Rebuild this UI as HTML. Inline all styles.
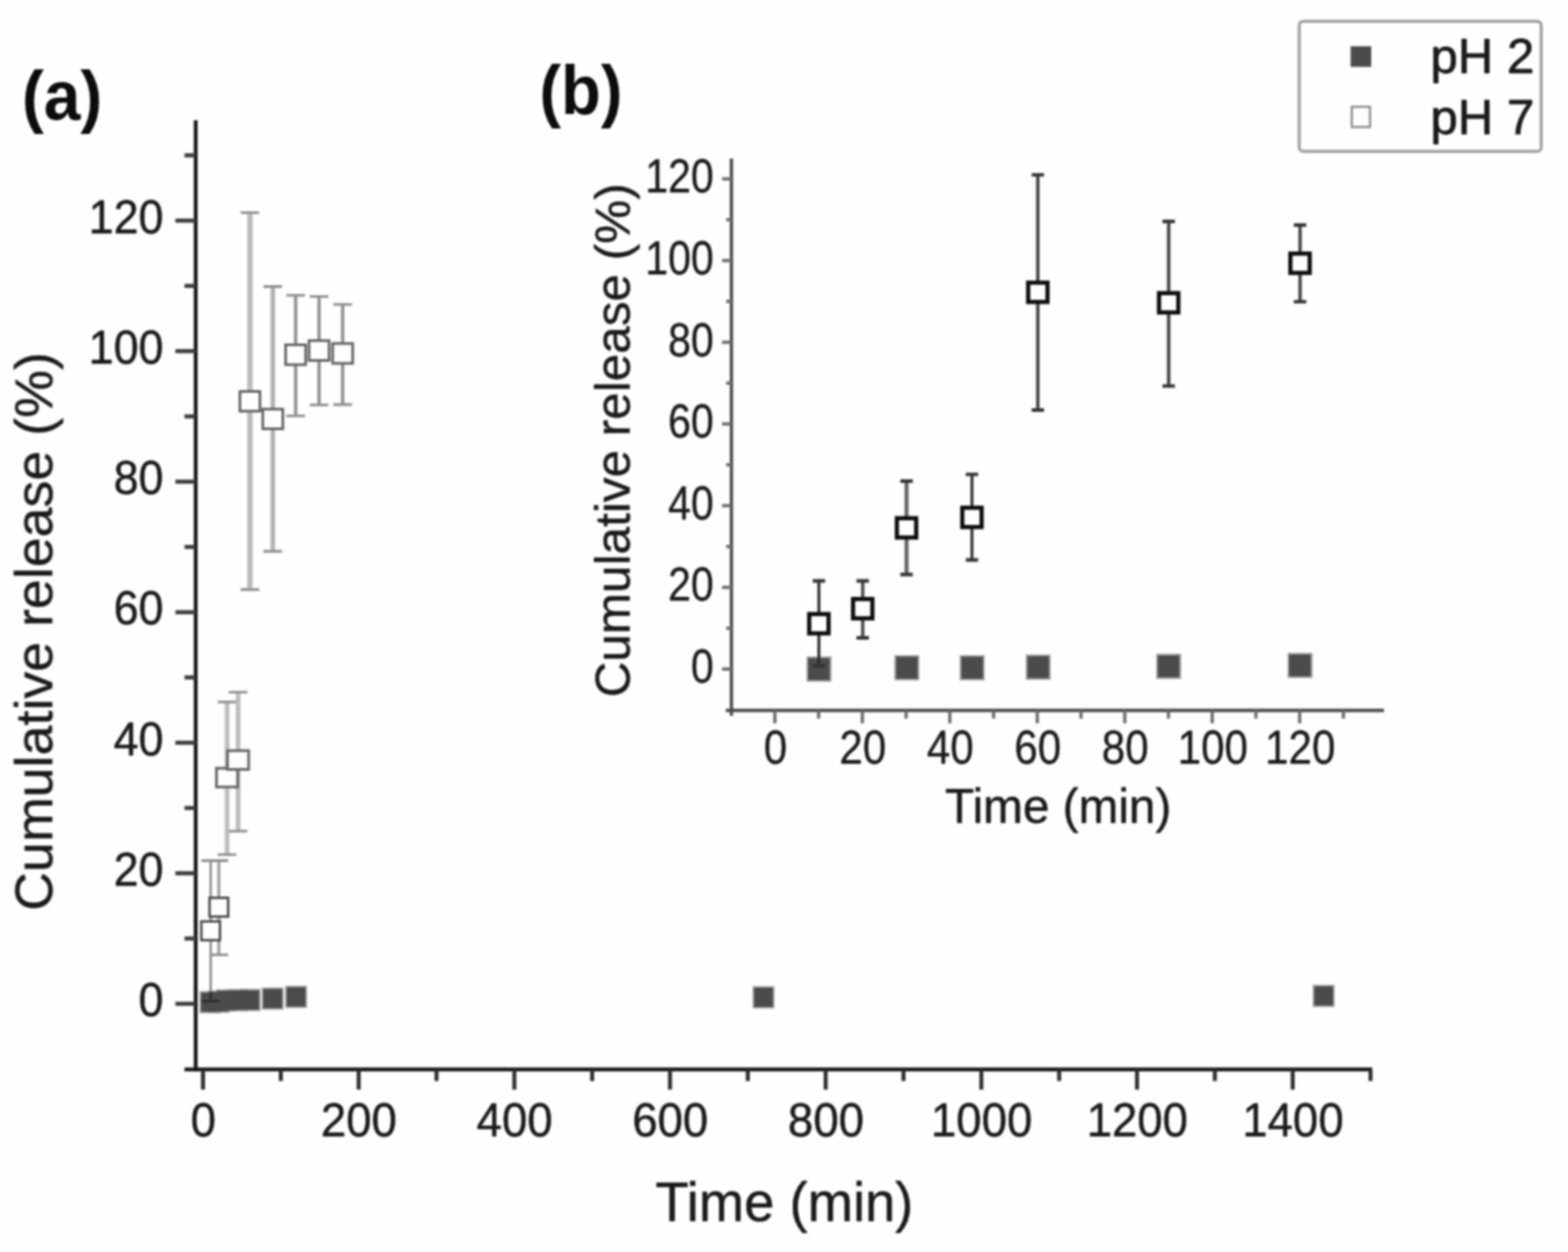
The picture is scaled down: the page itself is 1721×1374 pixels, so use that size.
<!DOCTYPE html>
<html lang="en">
<head>
<meta charset="utf-8">
<title>Cumulative release vs time</title>
<style>
html,body{margin:0;padding:0;background:#fefefe;}
body{width:1721px;height:1374px;overflow:hidden;}
svg{display:block;font-family:'Liberation Sans', Arial, Helvetica, sans-serif;}
</style>
</head>
<body>
<svg width="1721" height="1374" viewBox="0 0 1721 1374">
<rect width="1721" height="1374" fill="#fefefe"/>
<defs><filter id="soft" x="0" y="0" width="100%" height="100%" filterUnits="userSpaceOnUse" color-interpolation-filters="sRGB"><feGaussianBlur stdDeviation="1.1"/></filter></defs>
<g id="chart" filter="url(#soft)">
<g id="main-axes" stroke="#161616" stroke-width="4.2" fill="none">
<line x1="214.80" y1="132" x2="214.80" y2="1175.67"/>
<line x1="202.5" y1="1173.57" x2="1506" y2="1173.57"/>
<line x1="192.5" y1="1101.60" x2="214.80" y2="1101.60" stroke="#3c3c3c" stroke-width="4.5"/>
<line x1="202.5" y1="1029.97" x2="214.80" y2="1029.97" stroke="#3c3c3c" stroke-width="4.5"/>
<line x1="192.5" y1="958.35" x2="214.80" y2="958.35" stroke="#3c3c3c" stroke-width="4.5"/>
<line x1="202.5" y1="886.72" x2="214.80" y2="886.72" stroke="#3c3c3c" stroke-width="4.5"/>
<line x1="192.5" y1="815.10" x2="214.80" y2="815.10" stroke="#3c3c3c" stroke-width="4.5"/>
<line x1="202.5" y1="743.47" x2="214.80" y2="743.47" stroke="#3c3c3c" stroke-width="4.5"/>
<line x1="192.5" y1="671.85" x2="214.80" y2="671.85" stroke="#3c3c3c" stroke-width="4.5"/>
<line x1="202.5" y1="600.22" x2="214.80" y2="600.22" stroke="#3c3c3c" stroke-width="4.5"/>
<line x1="192.5" y1="528.60" x2="214.80" y2="528.60" stroke="#3c3c3c" stroke-width="4.5"/>
<line x1="202.5" y1="456.97" x2="214.80" y2="456.97" stroke="#3c3c3c" stroke-width="4.5"/>
<line x1="192.5" y1="385.35" x2="214.80" y2="385.35" stroke="#3c3c3c" stroke-width="4.5"/>
<line x1="202.5" y1="313.72" x2="214.80" y2="313.72" stroke="#3c3c3c" stroke-width="4.5"/>
<line x1="192.5" y1="242.10" x2="214.80" y2="242.10" stroke="#3c3c3c" stroke-width="4.5"/>
<line x1="202.5" y1="170.47" x2="214.80" y2="170.47" stroke="#3c3c3c" stroke-width="4.5"/>
<line x1="222.80" y1="1173.57" x2="222.80" y2="1195.77" stroke="#2e2e2e" stroke-width="4.4"/>
<line x1="308.23" y1="1173.57" x2="308.23" y2="1186.37" stroke="#2e2e2e" stroke-width="4.4"/>
<line x1="393.66" y1="1173.57" x2="393.66" y2="1195.77" stroke="#2e2e2e" stroke-width="4.4"/>
<line x1="479.09" y1="1173.57" x2="479.09" y2="1186.37" stroke="#2e2e2e" stroke-width="4.4"/>
<line x1="564.52" y1="1173.57" x2="564.52" y2="1195.77" stroke="#2e2e2e" stroke-width="4.4"/>
<line x1="649.95" y1="1173.57" x2="649.95" y2="1186.37" stroke="#2e2e2e" stroke-width="4.4"/>
<line x1="735.38" y1="1173.57" x2="735.38" y2="1195.77" stroke="#2e2e2e" stroke-width="4.4"/>
<line x1="820.81" y1="1173.57" x2="820.81" y2="1186.37" stroke="#2e2e2e" stroke-width="4.4"/>
<line x1="906.24" y1="1173.57" x2="906.24" y2="1195.77" stroke="#2e2e2e" stroke-width="4.4"/>
<line x1="991.67" y1="1173.57" x2="991.67" y2="1186.37" stroke="#2e2e2e" stroke-width="4.4"/>
<line x1="1077.10" y1="1173.57" x2="1077.10" y2="1195.77" stroke="#2e2e2e" stroke-width="4.4"/>
<line x1="1162.53" y1="1173.57" x2="1162.53" y2="1186.37" stroke="#2e2e2e" stroke-width="4.4"/>
<line x1="1247.96" y1="1173.57" x2="1247.96" y2="1195.77" stroke="#2e2e2e" stroke-width="4.4"/>
<line x1="1333.39" y1="1173.57" x2="1333.39" y2="1186.37" stroke="#2e2e2e" stroke-width="4.4"/>
<line x1="1418.82" y1="1173.57" x2="1418.82" y2="1195.77" stroke="#2e2e2e" stroke-width="4.4"/>
<line x1="1504.25" y1="1173.57" x2="1504.25" y2="1186.37" stroke="#2e2e2e" stroke-width="4.4"/>
</g>
<g id="main-ticklabels">
<text transform="translate(179.50 1115.20) scale(0.985 1.04)" font-size="50" text-anchor="end" fill="#1a1a1a" stroke="#1a1a1a" stroke-width="0.5" stroke-linejoin="round">0</text>
<text transform="translate(179.50 971.95) scale(0.985 1.04)" font-size="50" text-anchor="end" fill="#1a1a1a" stroke="#1a1a1a" stroke-width="0.5" stroke-linejoin="round">20</text>
<text transform="translate(179.50 828.70) scale(0.985 1.04)" font-size="50" text-anchor="end" fill="#1a1a1a" stroke="#1a1a1a" stroke-width="0.5" stroke-linejoin="round">40</text>
<text transform="translate(179.50 685.45) scale(0.985 1.04)" font-size="50" text-anchor="end" fill="#1a1a1a" stroke="#1a1a1a" stroke-width="0.5" stroke-linejoin="round">60</text>
<text transform="translate(179.50 542.20) scale(0.985 1.04)" font-size="50" text-anchor="end" fill="#1a1a1a" stroke="#1a1a1a" stroke-width="0.5" stroke-linejoin="round">80</text>
<text transform="translate(179.50 398.95) scale(0.985 1.04)" font-size="50" text-anchor="end" fill="#1a1a1a" stroke="#1a1a1a" stroke-width="0.5" stroke-linejoin="round">100</text>
<text transform="translate(179.50 255.70) scale(0.985 1.04)" font-size="50" text-anchor="end" fill="#1a1a1a" stroke="#1a1a1a" stroke-width="0.5" stroke-linejoin="round">120</text>
<text transform="translate(223.10 1247.20) scale(1.0 1.04)" font-size="50" text-anchor="middle" fill="#1a1a1a" stroke="#1a1a1a" stroke-width="0.5" stroke-linejoin="round">0</text>
<text transform="translate(393.96 1247.20) scale(1.0 1.04)" font-size="50" text-anchor="middle" fill="#1a1a1a" stroke="#1a1a1a" stroke-width="0.5" stroke-linejoin="round">200</text>
<text transform="translate(564.82 1247.20) scale(1.0 1.04)" font-size="50" text-anchor="middle" fill="#1a1a1a" stroke="#1a1a1a" stroke-width="0.5" stroke-linejoin="round">400</text>
<text transform="translate(735.68 1247.20) scale(1.0 1.04)" font-size="50" text-anchor="middle" fill="#1a1a1a" stroke="#1a1a1a" stroke-width="0.5" stroke-linejoin="round">600</text>
<text transform="translate(906.54 1247.20) scale(1.0 1.04)" font-size="50" text-anchor="middle" fill="#1a1a1a" stroke="#1a1a1a" stroke-width="0.5" stroke-linejoin="round">800</text>
<text transform="translate(1077.40 1247.20) scale(1.0 1.04)" font-size="50" text-anchor="middle" fill="#1a1a1a" stroke="#1a1a1a" stroke-width="0.5" stroke-linejoin="round">1000</text>
<text transform="translate(1248.26 1247.20) scale(1.0 1.04)" font-size="50" text-anchor="middle" fill="#1a1a1a" stroke="#1a1a1a" stroke-width="0.5" stroke-linejoin="round">1200</text>
<text transform="translate(1419.12 1247.20) scale(1.0 1.04)" font-size="50" text-anchor="middle" fill="#1a1a1a" stroke="#1a1a1a" stroke-width="0.5" stroke-linejoin="round">1400</text>
</g>
<text transform="translate(861.00 1340.40) scale(1 1.025)" font-size="59.7" text-anchor="middle" fill="#1a1a1a" stroke="#1a1a1a" stroke-width="0.5" stroke-linejoin="round">Time (min)</text>
<text transform="translate(57.40 693.00) rotate(-90) scale(1 0.985)" font-size="59" text-anchor="middle" fill="#1a1a1a" stroke="#1a1a1a" stroke-width="0.5" stroke-linejoin="round">Cumulative release (%)</text>
<text transform="translate(24.00 130.80) scale(0.965 1.025)" font-size="75" text-anchor="start" fill="#0c0c0c" font-weight="bold">(a)</text>
<text transform="translate(592.00 125.40) scale(0.965 1.025)" font-size="74" text-anchor="start" fill="#0c0c0c" font-weight="bold">(b)</text>
<g id="main-ph2-halo" fill="none" stroke="#a2a2a2" stroke-width="1.6">
<rect x="219.8" y="1088.5" width="22.4" height="22.8"/>
<rect x="228.8" y="1087.9" width="22.4" height="22.8"/>
<rect x="237.6" y="1086.6" width="22.4" height="22.8"/>
<rect x="249.7" y="1086.2" width="22.4" height="22.8"/>
<rect x="262.8" y="1086.0" width="22.4" height="22.8"/>
<rect x="288.1" y="1084.5" width="22.4" height="22.8"/>
<rect x="313.8" y="1082.6" width="22.4" height="22.8"/>
<rect x="826.8" y="1083.1" width="22.4" height="22.8"/>
<rect x="1441.6" y="1081.6" width="22.4" height="22.8"/>
</g>
<g id="main-ph2" fill="#4b4b4b">
<rect x="220.5" y="1089.2" width="21" height="21.4"/>
<rect x="229.5" y="1088.6" width="21" height="21.4"/>
<rect x="238.3" y="1087.3" width="21" height="21.4"/>
<rect x="250.4" y="1086.9" width="21" height="21.4"/>
<rect x="263.5" y="1086.7" width="21" height="21.4"/>
<rect x="288.8" y="1085.2" width="21" height="21.4"/>
<rect x="314.5" y="1083.3" width="21" height="21.4"/>
<rect x="827.5" y="1083.8" width="21" height="21.4"/>
<rect x="1442.3" y="1082.3" width="21" height="21.4"/>
</g>
<g id="main-errorbars" fill="none">
<path d="M231.2 944.5V1098.6" stroke="#8a8a8a" stroke-width="2.6"/>
<path d="M221.0 944.5H241.4M221.0 1098.6H241.4" stroke="#8c8c8c" stroke-width="2.8"/>
<path d="M240.2 944.5V1047.9" stroke="#9a9a9a" stroke-width="3.2"/>
<path d="M230.0 944.5H250.4M230.0 1047.9H250.4" stroke="#8c8c8c" stroke-width="2.8"/>
<path d="M249.2 770.3V937.8" stroke="#bebebe" stroke-width="5.2"/>
<path d="M239.0 770.3H259.4M239.0 937.8H259.4" stroke="#8c8c8c" stroke-width="2.8"/>
<path d="M261.3 759.6V912.2" stroke="#bcbcbc" stroke-width="5.2"/>
<path d="M251.1 759.6H271.5M251.1 912.2H271.5" stroke="#8c8c8c" stroke-width="2.8"/>
<path d="M274.3 233.3V647.0" stroke="#bcbcbc" stroke-width="6.0"/>
<path d="M264.1 233.3H284.5M264.1 647.0H284.5" stroke="#8c8c8c" stroke-width="2.8"/>
<path d="M299.4 314.5V605.0" stroke="#b2b2b2" stroke-width="5.0"/>
<path d="M289.2 314.5H309.6M289.2 605.0H309.6" stroke="#8c8c8c" stroke-width="2.8"/>
<path d="M324.5 324.1V456.4" stroke="#8e8e8e" stroke-width="3.6"/>
<path d="M314.3 324.1H334.7M314.3 456.4H334.7" stroke="#8c8c8c" stroke-width="2.8"/>
<path d="M350.2 325.4V444.4" stroke="#8e8e8e" stroke-width="3.6"/>
<path d="M340.0 325.4H360.4M340.0 444.4H360.4" stroke="#8c8c8c" stroke-width="2.8"/>
<path d="M376.1 334.2V444.0" stroke="#8e8e8e" stroke-width="3.6"/>
<path d="M365.9 334.2H386.3M365.9 444.0H386.3" stroke="#8c8c8c" stroke-width="2.8"/>
<path d="M231.2 1088.6V1098.6M221 1098.6H241.4" stroke="#2b2b2b" stroke-width="2.8"/>
</g>
<g id="main-ph7" fill="#fefefe">
<rect x="221.00" y="1011.20" width="20.4" height="20.6" stroke="#444444" stroke-width="2.6"/>
<rect x="230.00" y="985.30" width="20.4" height="20.6" stroke="#444444" stroke-width="2.6"/>
<rect x="237.60" y="843.10" width="23.2" height="20.6" stroke="#666666" stroke-width="3.0"/>
<rect x="249.70" y="823.80" width="23.2" height="20.6" stroke="#666666" stroke-width="3.0"/>
<rect x="263.30" y="429.60" width="22.0" height="21.6" stroke="#5e5e5e" stroke-width="2.8"/>
<rect x="288.40" y="449.00" width="22.0" height="21.6" stroke="#5e5e5e" stroke-width="2.8"/>
<rect x="313.50" y="378.40" width="22.0" height="21.8" stroke="#5e5e5e" stroke-width="2.8"/>
<rect x="339.20" y="373.80" width="22.0" height="21.8" stroke="#5e5e5e" stroke-width="2.8"/>
<rect x="365.10" y="377.00" width="22.0" height="21.8" stroke="#5e5e5e" stroke-width="2.8"/>
</g>
<g id="inset-axes" stroke="#4a4a4a" stroke-width="3.6" fill="none">
<line x1="802.80" y1="174" x2="802.80" y2="785.58"/>
<line x1="796.5" y1="779.58" x2="1519" y2="779.58"/>
<line x1="792.5" y1="734.25" x2="802.80" y2="734.25" stroke="#6c6c6c"/>
<line x1="797" y1="689.42" x2="802.80" y2="689.42" stroke="#6c6c6c"/>
<line x1="792.5" y1="644.59" x2="802.80" y2="644.59" stroke="#6c6c6c"/>
<line x1="797" y1="599.76" x2="802.80" y2="599.76" stroke="#6c6c6c"/>
<line x1="792.5" y1="554.93" x2="802.80" y2="554.93" stroke="#6c6c6c"/>
<line x1="797" y1="510.10" x2="802.80" y2="510.10" stroke="#6c6c6c"/>
<line x1="792.5" y1="465.27" x2="802.80" y2="465.27" stroke="#6c6c6c"/>
<line x1="797" y1="420.44" x2="802.80" y2="420.44" stroke="#6c6c6c"/>
<line x1="792.5" y1="375.61" x2="802.80" y2="375.61" stroke="#6c6c6c"/>
<line x1="797" y1="330.78" x2="802.80" y2="330.78" stroke="#6c6c6c"/>
<line x1="792.5" y1="285.95" x2="802.80" y2="285.95" stroke="#6c6c6c"/>
<line x1="797" y1="241.12" x2="802.80" y2="241.12" stroke="#6c6c6c"/>
<line x1="792.5" y1="196.29" x2="802.80" y2="196.29" stroke="#6c6c6c"/>
<line x1="850.50" y1="779.58" x2="850.50" y2="793.78" stroke="#6c6c6c"/>
<line x1="898.50" y1="779.58" x2="898.50" y2="788.58" stroke="#6c6c6c"/>
<line x1="946.50" y1="779.58" x2="946.50" y2="793.78" stroke="#6c6c6c"/>
<line x1="994.50" y1="779.58" x2="994.50" y2="788.58" stroke="#6c6c6c"/>
<line x1="1042.50" y1="779.58" x2="1042.50" y2="793.78" stroke="#6c6c6c"/>
<line x1="1090.50" y1="779.58" x2="1090.50" y2="788.58" stroke="#6c6c6c"/>
<line x1="1138.50" y1="779.58" x2="1138.50" y2="793.78" stroke="#6c6c6c"/>
<line x1="1186.50" y1="779.58" x2="1186.50" y2="788.58" stroke="#6c6c6c"/>
<line x1="1234.50" y1="779.58" x2="1234.50" y2="793.78" stroke="#6c6c6c"/>
<line x1="1282.50" y1="779.58" x2="1282.50" y2="788.58" stroke="#6c6c6c"/>
<line x1="1330.50" y1="779.58" x2="1330.50" y2="793.78" stroke="#6c6c6c"/>
<line x1="1378.50" y1="779.58" x2="1378.50" y2="788.58" stroke="#6c6c6c"/>
<line x1="1426.50" y1="779.58" x2="1426.50" y2="793.78" stroke="#6c6c6c"/>
<line x1="1474.50" y1="779.58" x2="1474.50" y2="788.58" stroke="#6c6c6c"/>
</g>
<g id="inset-ticklabels">
<text transform="translate(783.40 749.15) scale(0.96 1.105)" font-size="47" text-anchor="end" fill="#1a1a1a" stroke="#1a1a1a" stroke-width="0.35" stroke-linejoin="round">0</text>
<text transform="translate(783.40 659.49) scale(0.96 1.105)" font-size="47" text-anchor="end" fill="#1a1a1a" stroke="#1a1a1a" stroke-width="0.35" stroke-linejoin="round">20</text>
<text transform="translate(783.40 569.83) scale(0.96 1.105)" font-size="47" text-anchor="end" fill="#1a1a1a" stroke="#1a1a1a" stroke-width="0.35" stroke-linejoin="round">40</text>
<text transform="translate(783.40 480.17) scale(0.96 1.105)" font-size="47" text-anchor="end" fill="#1a1a1a" stroke="#1a1a1a" stroke-width="0.35" stroke-linejoin="round">60</text>
<text transform="translate(783.40 390.51) scale(0.96 1.105)" font-size="47" text-anchor="end" fill="#1a1a1a" stroke="#1a1a1a" stroke-width="0.35" stroke-linejoin="round">80</text>
<text transform="translate(783.40 300.85) scale(0.96 1.105)" font-size="47" text-anchor="end" fill="#1a1a1a" stroke="#1a1a1a" stroke-width="0.35" stroke-linejoin="round">100</text>
<text transform="translate(783.40 211.19) scale(0.96 1.105)" font-size="47" text-anchor="end" fill="#1a1a1a" stroke="#1a1a1a" stroke-width="0.35" stroke-linejoin="round">120</text>
<text transform="translate(851.10 838.20) scale(0.985 1.105)" font-size="47" text-anchor="middle" fill="#1a1a1a" stroke="#1a1a1a" stroke-width="0.35" stroke-linejoin="round">0</text>
<text transform="translate(947.10 838.20) scale(0.985 1.105)" font-size="47" text-anchor="middle" fill="#1a1a1a" stroke="#1a1a1a" stroke-width="0.35" stroke-linejoin="round">20</text>
<text transform="translate(1043.10 838.20) scale(0.985 1.105)" font-size="47" text-anchor="middle" fill="#1a1a1a" stroke="#1a1a1a" stroke-width="0.35" stroke-linejoin="round">40</text>
<text transform="translate(1139.10 838.20) scale(0.985 1.105)" font-size="47" text-anchor="middle" fill="#1a1a1a" stroke="#1a1a1a" stroke-width="0.35" stroke-linejoin="round">60</text>
<text transform="translate(1235.10 838.20) scale(0.985 1.105)" font-size="47" text-anchor="middle" fill="#1a1a1a" stroke="#1a1a1a" stroke-width="0.35" stroke-linejoin="round">80</text>
<text transform="translate(1331.10 838.20) scale(0.985 1.105)" font-size="47" text-anchor="middle" fill="#1a1a1a" stroke="#1a1a1a" stroke-width="0.35" stroke-linejoin="round">100</text>
<text transform="translate(1427.10 838.20) scale(0.985 1.105)" font-size="47" text-anchor="middle" fill="#1a1a1a" stroke="#1a1a1a" stroke-width="0.35" stroke-linejoin="round">120</text>
</g>
<text transform="translate(1161.50 903.20) scale(1 1.03)" font-size="52.4" text-anchor="middle" fill="#1a1a1a" stroke="#1a1a1a" stroke-width="0.5" stroke-linejoin="round">Time (min)</text>
<text transform="translate(690.60 483.30) rotate(-90) scale(1 0.985)" font-size="54.3" text-anchor="middle" fill="#1a1a1a" stroke="#1a1a1a" stroke-width="0.5" stroke-linejoin="round">Cumulative release (%)</text>
<g id="inset-ph2-halo" fill="none" stroke="#9a9a9a" stroke-width="1.8">
<rect x="886.2" y="721.4" width="25.4" height="25.8"/>
<rect x="982.6" y="719.9" width="25.4" height="25.8"/>
<rect x="1054.3" y="719.9" width="25.4" height="25.8"/>
<rect x="1126.8" y="719.3" width="25.4" height="25.8"/>
<rect x="1270.0" y="718.4" width="25.4" height="25.8"/>
<rect x="1414.2" y="717.4" width="25.4" height="25.8"/>
</g>
<g id="inset-ph2" fill="#4b4b4b">
<rect x="887.0" y="722.2" width="23.8" height="24.2"/>
<rect x="983.4" y="720.7" width="23.8" height="24.2"/>
<rect x="1055.1" y="720.7" width="23.8" height="24.2"/>
<rect x="1127.6" y="720.1" width="23.8" height="24.2"/>
<rect x="1270.8" y="719.2" width="23.8" height="24.2"/>
<rect x="1415.0" y="718.2" width="23.8" height="24.2"/>
</g>
<g id="inset-errorbars" fill="none">
<path d="M898.8 637.5V731.0" stroke="#2c2c2c" stroke-width="3.2"/>
<path d="M892.0 637.5H905.6M892.0 731.0H905.6" stroke="#343434" stroke-width="3.8"/>
<path d="M946.9 637.5V700.0" stroke="#505050" stroke-width="3.8"/>
<path d="M940.1 637.5H953.7M940.1 700.0H953.7" stroke="#343434" stroke-width="3.8"/>
<path d="M995.0 528.0V630.5" stroke="#646464" stroke-width="4.4"/>
<path d="M988.2 528.0H1001.8M988.2 630.5H1001.8" stroke="#343434" stroke-width="3.8"/>
<path d="M1066.8 520.6V614.5" stroke="#2c2c2c" stroke-width="3.2"/>
<path d="M1060.0 520.6H1073.6M1060.0 614.5H1073.6" stroke="#343434" stroke-width="3.8"/>
<path d="M1139.1 191.8V450.0" stroke="#444444" stroke-width="3.8"/>
<path d="M1132.3 191.8H1145.9M1132.3 450.0H1145.9" stroke="#343434" stroke-width="3.8"/>
<path d="M1282.7 243.0V423.7" stroke="#444444" stroke-width="3.8"/>
<path d="M1275.9 243.0H1289.5M1275.9 423.7H1289.5" stroke="#343434" stroke-width="3.8"/>
<path d="M1426.9 247.0V331.2" stroke="#4a4a4a" stroke-width="3.8"/>
<path d="M1420.1 247.0H1433.7M1420.1 331.2H1433.7" stroke="#343434" stroke-width="3.8"/>
</g>
<g id="inset-ph7" stroke="#0c0c0c" stroke-width="4.6" fill="#fefefe">
<rect x="888.2" y="673.9" width="21.2" height="21.2"/>
<rect x="936.3" y="657.4" width="21.2" height="21.2"/>
<rect x="984.4" y="568.7" width="21.2" height="21.2"/>
<rect x="1056.2" y="557.2" width="21.2" height="21.2"/>
<rect x="1128.5" y="310.2" width="21.2" height="21.2"/>
<rect x="1272.1" y="321.7" width="21.2" height="21.2"/>
<rect x="1416.3" y="278.3" width="21.2" height="21.2"/>
</g>
<g id="legend">
<rect x="1426" y="23.4" width="265.6" height="142.8" rx="4.5" ry="4.5" fill="#fefefe" stroke="#9c9c9c" stroke-width="3.2"/>
<rect x="1482.4" y="50.8" width="22.6" height="22.6" fill="#4b4b4b"/>
<rect x="1483.7" y="117.2" width="20" height="22.2" fill="#fefefe" stroke="#8a8a8a" stroke-width="2.4"/>
<text transform="translate(1684.00 79.60)" font-size="54" text-anchor="end" fill="#1a1a1a" stroke="#1a1a1a" stroke-width="0.8" stroke-linejoin="round">pH 2</text>
<text transform="translate(1684.00 147.00)" font-size="54" text-anchor="end" fill="#1a1a1a" stroke="#1a1a1a" stroke-width="0.8" stroke-linejoin="round">pH 7</text>
</g>
</g>
</svg>
</body>
</html>
